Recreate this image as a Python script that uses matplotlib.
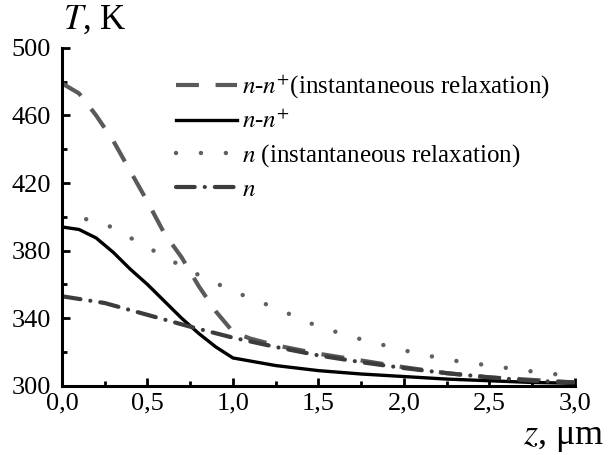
import numpy as np
import matplotlib
matplotlib.use('Agg')
import matplotlib.pyplot as plt
from matplotlib.ticker import MultipleLocator

plt.rcParams['font.family'] = ['Liberation Serif', 'DejaVu Serif']
plt.rcParams['mathtext.fontset'] = 'stix'

# values
z_nn_inst = [0, 0.1, 0.2, 0.3, 0.4, 0.5, 0.6, 0.7, 0.8, 0.9, 1.0, 1.1, 1.25, 1.5, 1.75, 2.0, 2.25, 2.5, 2.75, 3.0]
T_nn_inst = [479, 473, 460, 445, 427, 409, 390, 376, 359, 344, 332, 328, 324, 319, 315, 311, 307.5, 305, 303.5, 302]

z_nn = [0, 0.1, 0.2, 0.3, 0.4, 0.5, 0.6, 0.7, 0.8, 0.9, 1.0, 1.25, 1.5, 1.75, 2.0, 2.25, 2.5, 2.75, 3.0]
T_nn = [394, 392.5, 387.5, 379, 369, 360, 350, 340, 331, 323, 316.5, 312, 309, 307, 305.5, 304, 303, 302, 301.5]

z_n = [0, 0.25, 0.5, 0.75, 1.0, 1.25, 1.5, 1.75, 2.0, 2.25, 2.5, 2.75, 3.0]
T_n_inst = [402, 396, 382, 368, 356, 346, 335, 327.5, 321, 315.5, 312, 308.5, 305.5]
T_n = [353, 349, 342, 335, 328.5, 323, 318, 314, 310.5, 307.5, 305, 303, 302]

labels = [r'$n$-$n^{+}$(instantaneous relaxation)', r'$n$-$n^{+}$',
          r'$n$ (instantaneous relaxation)', r'$n$']
xticks = [0, 0.5, 1.0, 1.5, 2.0, 2.5, 3.0]
yticks = [300, 340, 380, 420, 460, 500]

fig = plt.figure(figsize=(6.13, 4.55), dpi=100)
ax = fig.add_axes([0.101, 0.152, 0.837, 0.743])

l1, = ax.plot(z_nn_inst, T_nn_inst, color='#5a5a5a', lw=3.0, dashes=(5.5, 4), label=labels[0])
l2, = ax.plot(z_nn, T_nn, color='black', lw=2.4, label=labels[1])
l3, = ax.plot(z_n, T_n_inst, color='#606060', lw=3.2, dashes=(0.01, 5.6),
              dash_capstyle='round', label=labels[2])
l4, = ax.plot(z_n, T_n, color='#3c3c3c', lw=3.0, dashes=(4.5, 2.4, 0.01, 2.4),
              dash_capstyle='round', label=labels[3])

ax.set_xlim(0, 3.0)
ax.set_ylim(300, 500)
ax.set_xticks(xticks)
ax.set_xticklabels([f'{v:.1f}'.replace('.', ',') for v in xticks])
ax.set_yticks(yticks)
ax.set_yticklabels([str(v) for v in yticks])
ax.xaxis.set_minor_locator(MultipleLocator(0.25))
ax.yaxis.set_minor_locator(MultipleLocator(20))

for s in ['top', 'right']:
    ax.spines[s].set_visible(False)
for s in ['left', 'bottom']:
    ax.spines[s].set_linewidth(2.2)
ax.tick_params(which='major', direction='in', length=6, width=2, labelsize=19)
ax.tick_params(axis='y', which='major', pad=8)
ax.tick_params(axis='x', which='major', pad=5)
ax.tick_params(which='minor', direction='in', length=3.5, width=2)

fig.text(63/613, 1 - 20/455, r'$T$, K', fontsize=25, ha='left', va='center')
fig.text(604/613, 1 - 437/455, r'$z$, μm', fontsize=26, ha='right', va='center')

leg = ax.legend(handles=[l1, l2, l3, l4], loc='upper left',
                bbox_to_anchor=(176/613, 1 - 73/455), bbox_transform=fig.transFigure,
                frameon=False, fontsize=18, handlelength=2.45, handletextpad=0.2,
                borderpad=0, borderaxespad=0, labelspacing=0.36)

fig.savefig('out.png', dpi=100)
